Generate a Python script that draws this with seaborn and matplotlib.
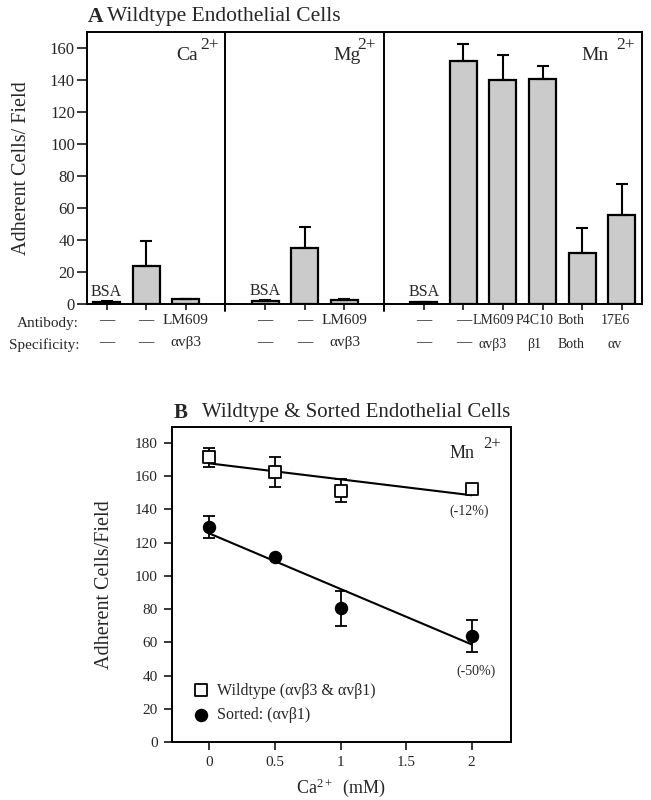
import numpy as np
import pandas as pd
import matplotlib.pyplot as plt
import matplotlib.transforms as mtransforms
import seaborn as sns

# ── Panel A: wildtype adhesion per cation ─────────────────────────────────────
ca_values   = [1.2, 23.8, 3.3]
ca_errors   = [0.4, 15.8, 0.0]
mg_values   = [1.9, 35.3, 2.5]
mg_errors   = [0.4, 12.7, 0.8]
mn_values   = [1.5, 152.0, 140.0, 140.6, 32.0, 56.0]
mn_errors   = [0.0, 10.5, 15.6, 8.4, 15.5, 19.0]

ca_antibody    = ['—', '—', 'LM609']
ca_specificity = ['—', '—', 'αvβ3']
mg_antibody    = ['—', '—', 'LM609']
mg_specificity = ['—', '—', 'αvβ3']
mn_antibody    = ['—', '—', 'LM609', 'P4C10', 'Both', '17E6']
mn_specificity = ['—', '—', 'αvβ3', 'β1', 'Both', 'αv']

ions = ['Ca', 'Mg', 'Mn']
control_label = 'BSA'

# ── Panel B: Ca2+ titration in Mn2+ ──────────────────────────────────────────
ca_mM        = [0, 0.5, 1, 2]
wt_cells     = [171.3, 162.6, 151.2, 152.0]
wt_err       = [5.8, 8.9, 6.8, 0.0]
sorted_cells = [129.4, 111.5, 80.5, 64.0]
sorted_err   = [6.5, 0.0, 10.7, 9.8]
wt_label     = 'Wildtype (αvβ3 & αvβ1)'
sorted_label = 'Sorted: (αvβ1)'
wt_change    = '(-12%)'
sorted_change = '(-50%)'

# ── Style ────────────────────────────────────────────────────────────────────
sns.set_style('ticks')
plt.rcParams['font.family'] = ['Liberation Serif', 'DejaVu Serif']
plt.rcParams['mathtext.fontset'] = 'custom'
plt.rcParams['mathtext.rm'] = 'Liberation Serif'
plt.rcParams['mathtext.it'] = 'Liberation Serif:italic'
plt.rcParams['mathtext.bf'] = 'Liberation Serif:bold'
plt.rcParams['axes.linewidth'] = 1.4
plt.rcParams['axes.edgecolor'] = 'black'

fig = plt.figure(figsize=(6.51, 8.0), dpi=100)
axA = fig.add_axes([0.1332, 0.62, 0.8525, 0.3404])
axB = fig.add_axes([0.2637, 0.0721, 0.5207, 0.3941])

# ── Build panel A table ──────────────────────────────────────────────────────
groups = [
    (ca_values, ca_errors, ca_antibody, ca_specificity),
    (mg_values, mg_errors, mg_antibody, mg_specificity),
    (mn_values, mn_errors, mn_antibody, mn_specificity),
]
rows = []
dividers = []
start = 0
for ion, (vals, errs, abs_, specs) in zip(ions, groups):
    for i, (v, e, a, s) in enumerate(zip(vals, errs, abs_, specs)):
        rows.append({'ion': ion, 'pos': start + i, 'value': v, 'err': e,
                     'label': f'{a}\n{s}', 'control': i == 0,
                     'antibody': a != '—'})
    start += len(vals) + 1
    dividers.append(start - 1)
dividers = dividers[:-1]
df_a = pd.DataFrame(rows)

sns.barplot(data=df_a, x='pos', y='value', native_scale=True, width=0.68,
            color='#cbcbcb', saturation=1, edgecolor='black', linewidth=1.6,
            errorbar=None, ax=axA)
axA.errorbar(df_a['pos'], df_a['value'],
             yerr=[np.zeros(len(df_a)), df_a['err']],
             fmt='none', ecolor='black', elinewidth=1.5, capsize=4, capthick=1.5,
             zorder=3)

for d in dividers:
    axA.axvline(d, ymin=-0.025, ymax=1, color='black', lw=1.4, clip_on=False)

for _, r in df_a[df_a['control']].iterrows():
    axA.text(r['pos'], r['value'] + 3.5, control_label, ha='center',
             va='baseline', fontsize=11.5)

# cation labels
ion_text = {'Ca': (1.76, 2.36), 'Mg': (5.72, 6.33), 'Mn': (11.98, 12.86)}
for ion, (x_main, x_sup) in ion_text.items():
    axA.text(x_main, 152.5, ion, ha='left', va='baseline', fontsize=14)
    axA.text(x_sup, 159.5, '2+', ha='left', va='baseline', fontsize=12.5)

axA.set_xlim(-0.5, 13.5)
axA.set_ylim(0, 170.4)
axA.set_yticks(np.arange(0, 161, 20))
axA.set_xticks(df_a['pos'])
axA.set_xticklabels(df_a['label'], fontsize=11, linespacing=1.9)
axA.tick_params(axis='x', direction='out', length=4.5, width=1.3, pad=3)
axA.tick_params(axis='y', direction='out', length=7, width=1.3, pad=1.5,
                labelsize=12)
axA.set_xlabel('')
axA.set_ylabel('Adherent Cells/ Field', fontsize=14.5)
axA.yaxis.set_label_coords(-0.100, 0.5)

# the crowded Mn antibody names are set smaller and nudged left of the ticks
mn_nudge_px = {'LM609': -10, 'P4C10': -8, 'Both': -11, '17E6': -7}
mn_rows = df_a[df_a['ion'] == 'Mn']
for lab, (_, r) in zip(axA.get_xticklabels(), df_a.iterrows()):
    name = r['label'].split('\n')[0]
    if r['ion'] == 'Mn' and name in mn_nudge_px:
        shift = mtransforms.ScaledTranslation(mn_nudge_px[name] / 100, 0,
                                              fig.dpi_scale_trans)
        lab.set_fontsize(10)
        lab.set_linespacing(2.1)
        lab.set_transform(lab.get_transform() + shift)

fig.text(79 / 651, 1 - 323.3 / 800, 'Antibody:', ha='right', va='center',
         fontsize=11)
fig.text(79 / 651, 1 - 345 / 800, 'Specificity:', ha='right', va='center',
         fontsize=11)

fig.text(88 / 651, 1 - 17 / 800, 'A', ha='left', va='center', fontsize=15.5,
         fontweight='bold')
fig.text(107 / 651, 1 - 17 / 800, 'Wildtype Endothelial Cells', ha='left',
         va='center', fontsize=15.5)

# ── Panel B ──────────────────────────────────────────────────────────────────
axB.errorbar(ca_mM, wt_cells, yerr=wt_err, fmt='none', ecolor='black',
             elinewidth=1.3, capsize=4.5, capthick=1.3, zorder=2)
axB.errorbar(ca_mM, sorted_cells, yerr=sorted_err, fmt='none', ecolor='black',
             elinewidth=1.3, capsize=4.5, capthick=1.3, zorder=2)

sns.regplot(x=ca_mM, y=wt_cells, ci=None, marker='s', color='black',
            label=wt_label, ax=axB,
            scatter_kws={'s': 70, 'facecolors': 'white', 'linewidths': 1.3,
                         'alpha': 1, 'zorder': 4},
            line_kws={'lw': 1.5, 'zorder': 3})
sns.regplot(x=ca_mM, y=sorted_cells, ci=None, marker='o', color='black',
            label=sorted_label, ax=axB,
            scatter_kws={'s': 75, 'alpha': 1, 'zorder': 4},
            line_kws={'lw': 1.5, 'zorder': 3})

axB.text(ca_mM[-1] - 0.02, 138.6, wt_change, ha='center', va='center',
         fontsize=10)
axB.text(ca_mM[-1] + 0.03, 43, sorted_change, ha='center', va='center',
         fontsize=10)
axB.text(1.83, 170.7, 'Mn', ha='left', va='baseline', fontsize=13)
axB.text(2.09, 177, '2+', ha='left', va='baseline', fontsize=12)

axB.set_xlim(-0.287, 2.297)
axB.set_ylim(0, 189.5)
axB.set_xticks([0, 0.5, 1, 1.5, 2])
axB.set_xticklabels(['0', '0.5', '1', '1.5', '2'])
axB.set_yticks(np.arange(0, 181, 20))
axB.tick_params(axis='both', direction='out', length=6, width=1.3, pad=4,
                labelsize=11)
axB.set_xlabel('Ca$^{2+}$  (mM)', fontsize=13, labelpad=5)
axB.set_ylabel('Adherent Cells/Field', fontsize=14.5)
axB.yaxis.set_label_coords(-0.170, 0.5)
axB.legend(loc='lower left', bbox_to_anchor=(0.045, 0.04), frameon=False,
           fontsize=11.5, handlelength=1.0, handletextpad=0.5,
           labelspacing=0.55, borderaxespad=0)

fig.text(174 / 651, 1 - 413 / 800, 'B', ha='left', va='center', fontsize=15,
         fontweight='bold')
fig.text(201.7 / 651, 1 - 413 / 800, 'Wildtype & Sorted Endothelial Cells',
         ha='left', va='center', fontsize=15)

for ax in (axA, axB):
    for sp in ax.spines.values():
        sp.set_visible(True)
        sp.set_color('black')

fig.savefig('out.png', dpi=100)
